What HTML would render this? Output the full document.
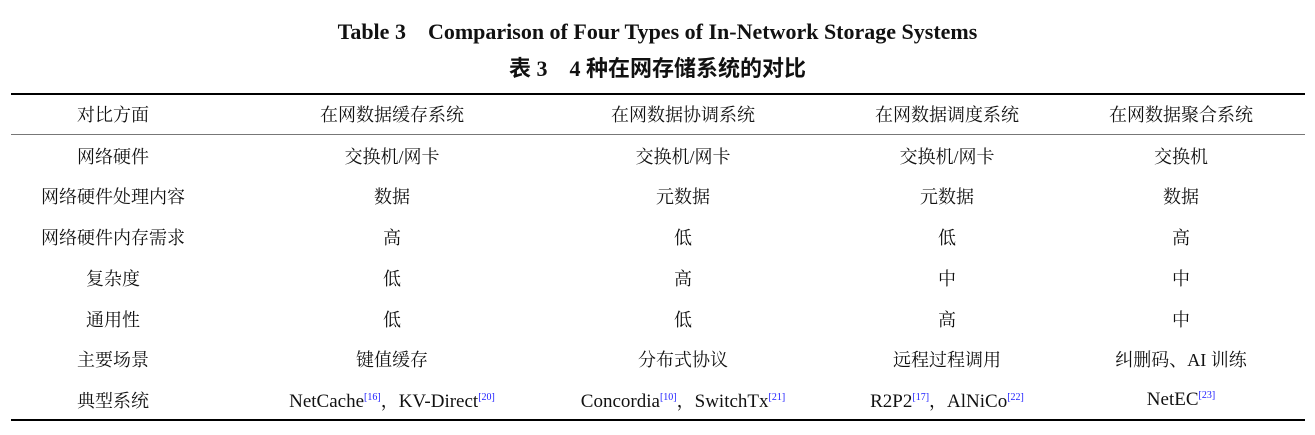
<!DOCTYPE html>
<html><head><meta charset="utf-8"><style>
body{margin:0;width:1315px;height:435px;background:#fff;position:relative;overflow:hidden;font-family:"Liberation Serif","Noto Serif CJK SC",serif;color:#111}
.t{position:absolute;left:0;width:1315px;text-align:center;font-weight:bold;font-size:22px;line-height:24px}
.r{position:absolute;left:11px;width:1294px;background:#000}
.c{position:absolute;transform:translate(-50%,-50%);white-space:nowrap;font-size:18px}
.e{font-size:19px}
sup{color:#1a1aff;font-size:10px;vertical-align:7px}
</style></head><body>
<div class="t" style="top:20px;left:0">Table 3&nbsp;&nbsp;&nbsp; Comparison of Four Types of In-Network Storage Systems</div>
<div class="t" style="top:57px;font-family:'Liberation Serif','Noto Sans CJK SC',sans-serif">表 3&nbsp;&nbsp;&nbsp; 4 种在网存储系统的对比</div>
<div class="r" style="top:93px;height:2px"></div>
<div class="r" style="top:134px;height:1px;background:#777"></div>
<div class="r" style="top:419px;height:2px"></div>
<div id="g"></div>
<script>
var xs=[113,392,683,947,1181],ys=[114,156,196,237,278,319,359,400];
var d=[["对比方面","在网数据缓存系统","在网数据协调系统","在网数据调度系统","在网数据聚合系统"],
["网络硬件","交换机/网卡","交换机/网卡","交换机/网卡","交换机"],
["网络硬件处理内容","数据","元数据","元数据","数据"],
["网络硬件内存需求","高","低","低","高"],
["复杂度","低","高","中","中"],
["通用性","低","低","高","中"],
["主要场景","键值缓存","分布式协议","远程过程调用","纠删码、AI 训练"],
["典型系统","<span class=e>NetCache</span><sup>[16]</sup>，<span class=e>KV-Direct</span><sup>[20]</sup>","<span class=e>Concordia</span><sup>[10]</sup>，<span class=e>SwitchTx</span><sup>[21]</sup>","<span class=e>R2P2</span><sup>[17]</sup>，<span class=e>AlNiCo</span><sup>[22]</sup>","<span class=e>NetEC</span><sup>[23]</sup>"]];
var h="";for(var i=0;i<8;i++)for(var j=0;j<5;j++)h+='<div class="c" style="left:'+xs[j]+'px;top:'+ys[i]+'px">'+d[i][j]+'</div>';
document.getElementById("g").innerHTML=h;
</script>
</body></html>
